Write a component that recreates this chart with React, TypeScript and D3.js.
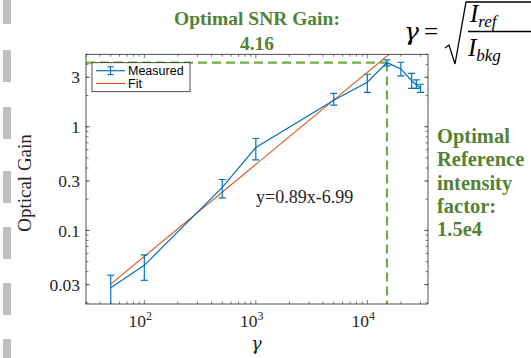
import React from 'react';
import * as d3 from 'd3';

// ---- data ----
const gammaValues = [50, 100, 500, 1000, 5000, 10000, 15000, 20000, 25000, 27500, 30000];
const gainValues = [0.028, 0.046, 0.26, 0.63, 1.8, 2.69, 4.16, 3.61, 2.78, 2.53, 2.38];
const gainLower = [0.015, 0.033, 0.206, 0.48, 1.62, 2.15, 3.86, 3.09, 2.35, 2.35, 2.15];
const gainUpper = [0.037, 0.058, 0.31, 0.77, 2.1, 3.21, 4.41, 4.19, 3.28, 2.83, 2.57];
const fitGamma = [50, 30000];
const fitGain = [0.0303, 8.9];
const xTickValues = [100, 1000, 10000];
const xTickExponents = ['2', '3', '4'];
const yTickValues = [0.03, 0.1, 0.3, 1, 3];
const yTickLabels = ['0.03', '0.1', '0.3', '1', '3'];
const optimalGamma = 15000;
const optimalGain = 4.16;
const xDomain = [30, 35000];
const yDomain = [0.0195, 5];
const titleLines = ['Optimal SNR Gain:', '4.16'];
const sideLines = ['Optimal', 'Reference', 'intensity', 'factor:', '1.5e4'];
const legendLabels = ['Measured', 'Fit'];
const fitLabel = 'y=0.89x-6.99';
const grayBarStarts = [-8, 50, 107, 171, 227, 283, 339];

const W = 531;
const H = 358;
const L = 86, R = 428, T = 54.3, B = 304;
const BLUE = '#0072BD';
const ORANGE = '#D95319';
const AX = '#262626';
const GREEN_DASH = '#70AD47';
const GREEN_TEXT = '#548235';
const SERIF = '"Liberation Serif", "DejaVu Serif", serif';
const GREEK = '"DejaVu Serif", serif';
const SANS = '"Liberation Sans", Arial, sans-serif';

export default function App() {
  const x = d3.scaleLog().domain(xDomain).range([L, R]);
  const y = d3.scaleLog().domain(yDomain).range([B, T]);

  const xMinor = x.ticks(20).filter(v => v >= xDomain[0] && v <= xDomain[1]);
  const yMinor = y.ticks(20).filter(v => v >= yDomain[0] && v <= yDomain[1]);
  const isPow10 = (v: number) => Math.abs(Math.log10(v) - Math.round(Math.log10(v))) < 1e-9;

  const line = d3.line<[number, number]>().x(d => x(d[0])).y(d => y(d[1]));
  const measured = line(gammaValues.map((g, i) => [g, gainValues[i]] as [number, number]))!;
  const fit = line(fitGamma.map((g, i) => [g, fitGain[i]] as [number, number]))!;

  const majLen = 4, minLen = 2.5;
  const cap = 3.5;

  return (
    <svg width={W} height={H} style={{ position: 'absolute', left: 0, top: 0, background: '#fff' }}>
      <defs>
        <clipPath id="plotclip">
          <rect x={L} y={T} width={R - L} height={B - T} />
        </clipPath>
      </defs>
      <rect x={0} y={0} width={W} height={H} fill="#fff" />

      {/* left gray dashes decoration */}
      {grayBarStarts.map((s, i) => (
        <rect key={i} x={3} y={s} width={8} height={32} fill="#bfbfbf" />
      ))}

      {/* ticks */}
      <g stroke={AX} strokeWidth={0.6}>
        {xMinor.map((v, i) => {
          const len = isPow10(v) ? majLen : minLen;
          return (
            <g key={'xm' + i}>
              <line x1={x(v)} x2={x(v)} y1={B} y2={B - len} />
              <line x1={x(v)} x2={x(v)} y1={T} y2={T + len} />
            </g>
          );
        })}
        {yMinor.map((v, i) => (
          <g key={'ym' + i}>
            <line x1={L} x2={L + minLen} y1={y(v)} y2={y(v)} />
            <line x1={R} x2={R - minLen} y1={y(v)} y2={y(v)} />
          </g>
        ))}
        {yTickValues.map((v, i) => (
          <g key={'yM' + i}>
            <line x1={L} x2={L + majLen} y1={y(v)} y2={y(v)} />
            <line x1={R} x2={R - majLen} y1={y(v)} y2={y(v)} />
          </g>
        ))}
      </g>

      {/* green dashed guide lines */}
      <g stroke={GREEN_DASH} strokeWidth={2.2} strokeDasharray="9 5" fill="none">
        <line x1={x(xDomain[0])} x2={x(optimalGamma)} y1={y(optimalGain)} y2={y(optimalGain)} />
        <line x1={x(optimalGamma)} x2={x(optimalGamma)} y1={y(optimalGain)} y2={B} />
      </g>

      <g clipPath="url(#plotclip)">
        <path d={fit} stroke={ORANGE} strokeWidth={1.1} fill="none" />
        <path d={measured} stroke={BLUE} strokeWidth={1.2} fill="none" />
        <g stroke={BLUE} strokeWidth={1.2}>
          {gammaValues.map((g, i) => {
            const cx = x(g);
            const y1 = y(gainLower[i]);
            const y2 = y(gainUpper[i]);
            return (
              <g key={'e' + i}>
                <line x1={cx} x2={cx} y1={y1} y2={y2} />
                <line x1={cx - cap} x2={cx + cap} y1={y1} y2={y1} />
                <line x1={cx - cap} x2={cx + cap} y1={y2} y2={y2} />
              </g>
            );
          })}
        </g>
      </g>

      {/* axes box */}
      <rect x={L} y={T} width={R - L} height={B - T} fill="none" stroke={AX} strokeWidth={0.8} />

      {/* tick labels */}
      <g fontFamily={SERIF} fill={AX}>
        {yTickValues.map((v, i) => (
          <text key={'yl' + i} x={80} y={y(v)} dy="0.35em" textAnchor="end" fontSize={17.5}>
            {yTickLabels[i]}
          </text>
        ))}
        {xTickValues.map((v, i) => (
          <text key={'xl' + i} x={x(v) - 4} y={327} textAnchor="middle" fontSize={17.5}>
            10
            <tspan dy={-7} fontSize={12}>{xTickExponents[i]}</tspan>
          </text>
        ))}
        <text x={256.5} y={350} textAnchor="middle" fontSize={18} fontStyle="italic" fontFamily={GREEK}>γ</text>
        <text transform={`translate(31,183) rotate(-90)`} textAnchor="middle" fontSize={19}>
          Optical Gain
        </text>
        <text x={256} y={203} fontSize={18}>{fitLabel}</text>
      </g>

      {/* legend */}
      <g>
        <rect x={92} y={62.7} width={98} height={29} fill="#fff" stroke={AX} strokeWidth={0.8} />
        <line x1={96} x2={125} y1={70.7} y2={70.7} stroke={BLUE} strokeWidth={1.2} />
        <line x1={110.5} x2={110.5} y1={66.8} y2={74.6} stroke={BLUE} strokeWidth={1.2} />
        <line x1={107.5} x2={113.5} y1={66.8} y2={66.8} stroke={BLUE} strokeWidth={1.2} />
        <line x1={107.5} x2={113.5} y1={74.6} y2={74.6} stroke={BLUE} strokeWidth={1.2} />
        <line x1={96} x2={125} y1={83.5} y2={83.5} stroke={ORANGE} strokeWidth={1.2} />
        <text x={128} y={70.7} dy="0.35em" fontFamily={SANS} fontSize={12.5} fill="#000">{legendLabels[0]}</text>
        <text x={128} y={83.5} dy="0.35em" fontFamily={SANS} fontSize={12.5} fill="#000">{legendLabels[1]}</text>
      </g>

      {/* green annotations */}
      <g fontFamily={SERIF} fontWeight="bold" fill={GREEN_TEXT}>
        <text x={257} y={25} textAnchor="middle" fontSize={19.5}>{titleLines[0]}</text>
        <text x={257} y={50} textAnchor="middle" fontSize={19.5}>{titleLines[1]}</text>
        {sideLines.map((s, i) => (
          <text key={'s' + i} x={437} y={143 + i * 23.3} fontSize={20.5}>{s}</text>
        ))}
      </g>

      {/* formula */}
      <g fontFamily={SERIF} fill="#000">
        <text x={404} y={40} fontSize={25} fontStyle="italic" fontFamily={GREEK}>γ</text>
        <text x={424} y={40} fontSize={25}>=</text>
        <path d="M445,48 L449,45 L455,64 L466,2 L531,2" fill="none" stroke="#000" strokeWidth={1.3} />
        <text x={470} y={22} fontSize={25} fontStyle="italic">
          I<tspan fontSize={17} dy={5}>ref</tspan>
        </text>
        <line x1={468} x2={531} y1={31.5} y2={31.5} stroke="#000" strokeWidth={1.3} />
        <text x={468} y={56} fontSize={25} fontStyle="italic">
          I<tspan fontSize={17} dy={5}>bkg</tspan>
        </text>
      </g>
    </svg>
  );
}
